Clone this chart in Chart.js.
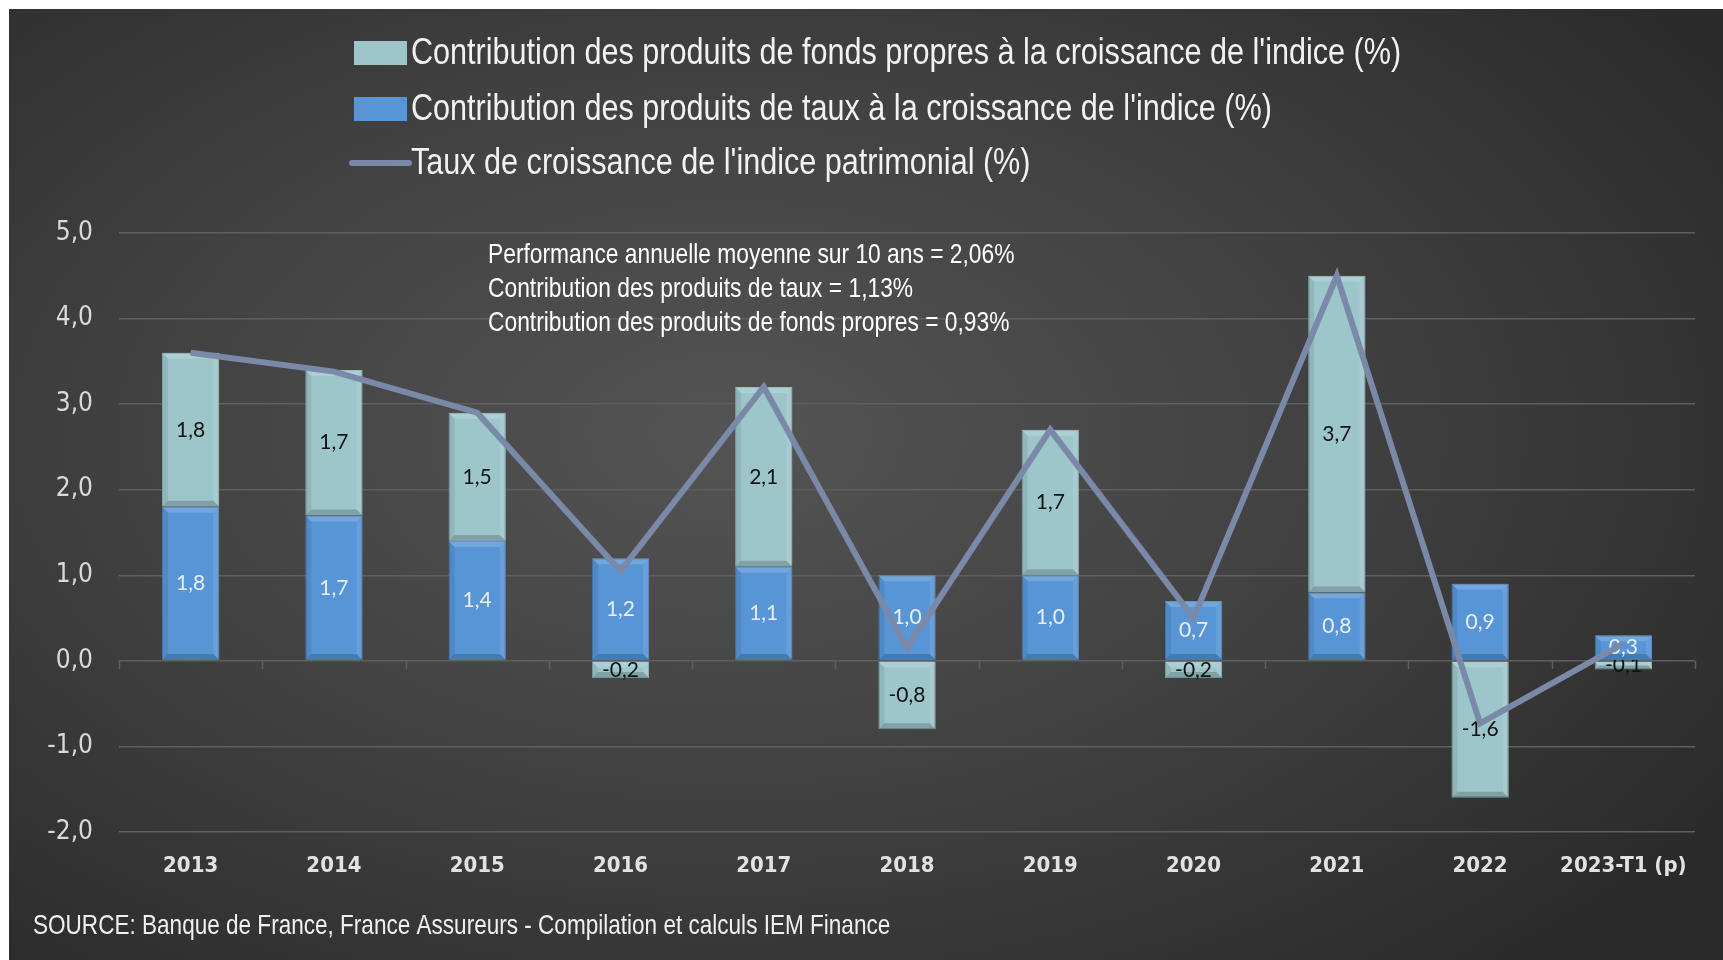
<!DOCTYPE html>
<html>
<head>
<meta charset="utf-8">
<script src="https://cdn.jsdelivr.net/npm/chart.js@4.4.1/dist/chart.umd.min.js"></script>
<style>
  html, body { margin: 0; padding: 0; background: #fff; }
  #wrap {
    position: absolute; left: 9px; top: 9px; width: 1714px; height: 951px;
    background: radial-gradient(ellipse 70% 75% at 42% 45%, #545454 0%, #414141 50%, #2a2a2a 100%);
  }
</style>
</head>
<body>
<div id="wrap"><canvas id="chart" width="1714" height="951"></canvas></div>
<script>
const categories = ['2013', '2014', '2015', '2016', '2017', '2018', '2019', '2020', '2021', '2022', '2023-T1 (p)'];
const tauxValues = [1.8, 1.7, 1.4, 1.2, 1.1, 1.0, 1.0, 0.7, 0.8, 0.9, 0.3];
const fondsValues = [1.8, 1.7, 1.5, -0.2, 2.1, -0.8, 1.7, -0.2, 3.7, -1.6, -0.1];
const croissanceValues = [3.6, 3.38, 2.9, 1.05, 3.2, 0.15, 2.7, 0.5, 4.5, -0.73, 0.2];

const legendLabels = [
    "Contribution des produits de fonds propres à la croissance de l'indice (%)",
    "Contribution des produits de taux à la croissance de l'indice (%)",
    "Taux de croissance de l'indice patrimonial (%)"
];
const noteLines = [
    'Performance annuelle moyenne sur 10 ans = 2,06%',
    'Contribution des produits de taux = 1,13%',
    'Contribution des produits de fonds propres = 0,93%'
];
const sourceText = 'SOURCE: Banque de France, France Assureurs - Compilation et calculs IEM Finance';

const NARROW = "'DejaVu Sans Condensed', 'Liberation Sans', sans-serif";
const BLUE = '#5795d6';
const TEAL = '#9dc6cb';
const LINE = '#7b89a8';
const GRID = '#5f5f5f';

const fmt = v => v.toFixed(1).replace('.', ',');

// Arial Narrow look: Liberation Sans squeezed to 82 %
function narrowText(ctx, text, x, y, size) {
    ctx.save();
    ctx.translate(x, y);
    ctx.scale(0.82, 1);
    ctx.font = size + "px 'Liberation Sans', Arial, sans-serif";
    ctx.fillText(text, 0, 0);
    ctx.restore();
}

// bevel edges and value labels, drawn before the line
const barLabels = {
    id: 'barLabels',
    afterDatasetDraw(chart, args) {
        if (args.meta.type !== 'bar') return;
        const ds = chart.data.datasets[args.index];
        const ctx = chart.ctx;
        ctx.save();
        args.meta.data.forEach(el => {
            const l = el.x - el.width / 2, r = el.x + el.width / 2;
            const t = Math.min(el.y, el.base), b = Math.max(el.y, el.base);
            const e = Math.min(6, (b - t) / 2);
            const quad = (pts, c) => {
                ctx.fillStyle = c;
                ctx.beginPath();
                ctx.moveTo(pts[0], pts[1]);
                for (let k = 2; k < pts.length; k += 2) ctx.lineTo(pts[k], pts[k + 1]);
                ctx.closePath();
                ctx.fill();
            };
            quad([l, t, r, t, r - e, t + e, l + e, t + e], 'rgba(255,255,255,0.16)');
            quad([l, t, l + e, t + e, l + e, b - e, l, b], 'rgba(0,0,0,0.08)');
            quad([r, t, r, b, r - e, b - e, r - e, t + e], 'rgba(255,255,255,0.10)');
            quad([l, b, l + e, b - e, r - e, b - e, r, b], 'rgba(0,0,0,0.18)');
        });
        ctx.font = "21px Lato, 'Open Sans', sans-serif";
        ctx.textAlign = 'center';
        ctx.textBaseline = 'middle';
        ctx.fillStyle = ds.labelColor;
        args.meta.data.forEach((el, i) => {
            ctx.fillText(fmt(ds.data[i]), el.x, (el.y + el.base) / 2);
        });
        ctx.restore();
    }
};

// small tick marks under the zero line
const zeroTicks = {
    id: 'zeroTicks',
    beforeDatasetsDraw(chart) {
        const { ctx, chartArea, scales } = chart;
        const y0 = scales.y.getPixelForValue(0);
        const step = chartArea.width / categories.length;
        ctx.save();
        ctx.strokeStyle = GRID;
        ctx.lineWidth = 1.5;
        for (let i = 0; i <= categories.length; i++) {
            const x = Math.round(chartArea.left + i * step) + 0.5;
            ctx.beginPath();
            ctx.moveTo(x, y0);
            ctx.lineTo(x, y0 + 8);
            ctx.stroke();
        }
        ctx.restore();
    }
};

// legend, note and source text
const texts = {
    id: 'texts',
    afterDraw(chart) {
        const ctx = chart.ctx;
        ctx.save();
        ctx.textBaseline = 'middle';

        const rows = [44, 100, 154];
        rows.forEach((y, i) => {
            if (i < 2) {
                ctx.fillStyle = i === 0 ? TEAL : BLUE;
                ctx.fillRect(345, y - 12, 53, 24);
            } else {
                ctx.strokeStyle = LINE;
                ctx.lineWidth = 6;
                ctx.lineCap = 'round';
                ctx.beginPath();
                ctx.moveTo(343, y);
                ctx.lineTo(400, y);
                ctx.stroke();
            }
            ctx.fillStyle = '#f2f2f2';
            narrowText(ctx, legendLabels[i], 402, y + 1, 37.3);
        });

        ctx.fillStyle = '#ffffff';
        noteLines.forEach((t, i) => narrowText(ctx, t, 479, 246 + i * 34, 27.8));

        ctx.fillStyle = '#f0f0f0';
        narrowText(ctx, sourceText, 24, 917, 27.5);
        ctx.restore();
    }
};

new Chart(document.getElementById('chart'), {
    type: 'bar',
    data: {
        labels: categories,
        datasets: [
            {
                type: 'line',
                label: legendLabels[2],
                data: croissanceValues,
                borderColor: LINE,
                borderWidth: 6,
                pointRadius: 0,
                tension: 0,
                borderJoinStyle: 'miter',
                order: 0
            },
            {
                label: legendLabels[1],
                data: tauxValues,
                backgroundColor: BLUE,
                borderColor: '#4a80bd',
                borderWidth: 1,
                stack: 's',
                labelColor: '#e9eff7',
                order: 1
            },
            {
                label: legendLabels[0],
                data: fondsValues,
                backgroundColor: TEAL,
                borderColor: '#86b0b5',
                borderWidth: 1,
                stack: 's',
                labelColor: '#111111',
                order: 1
            }
        ]
    },
    options: {
        responsive: false,
        animation: false,
        layout: { padding: { top: 224, right: 28, left: 0, bottom: 0 } },
        datasets: {
            bar: { categoryPercentage: 1, barPercentage: 0.4 }
        },
        plugins: {
            legend: { display: false },
            tooltip: { enabled: false }
        },
        scales: {
            x: {
                stacked: true,
                grid: { display: false, drawTicks: false },
                border: { display: false },
                ticks: {
                    color: '#e2e2e2',
                    padding: 21,
                    font: { family: NARROW, size: 22, weight: 'bold' }
                },
                afterFit(s) { s.height = 128; }
            },
            y: {
                stacked: true,
                min: -2,
                max: 5,
                grid: { color: GRID, lineWidth: 1.5, drawTicks: false },
                border: { display: false },
                ticks: {
                    stepSize: 1,
                    color: '#d9d9d9',
                    padding: 26,
                    font: { family: NARROW, size: 26 },
                    callback: v => fmt(v)
                },
                afterFit(s) { s.width = 110; }
            }
        }
    },
    plugins: [barLabels, zeroTicks, texts]
});
</script>
</body>
</html>
